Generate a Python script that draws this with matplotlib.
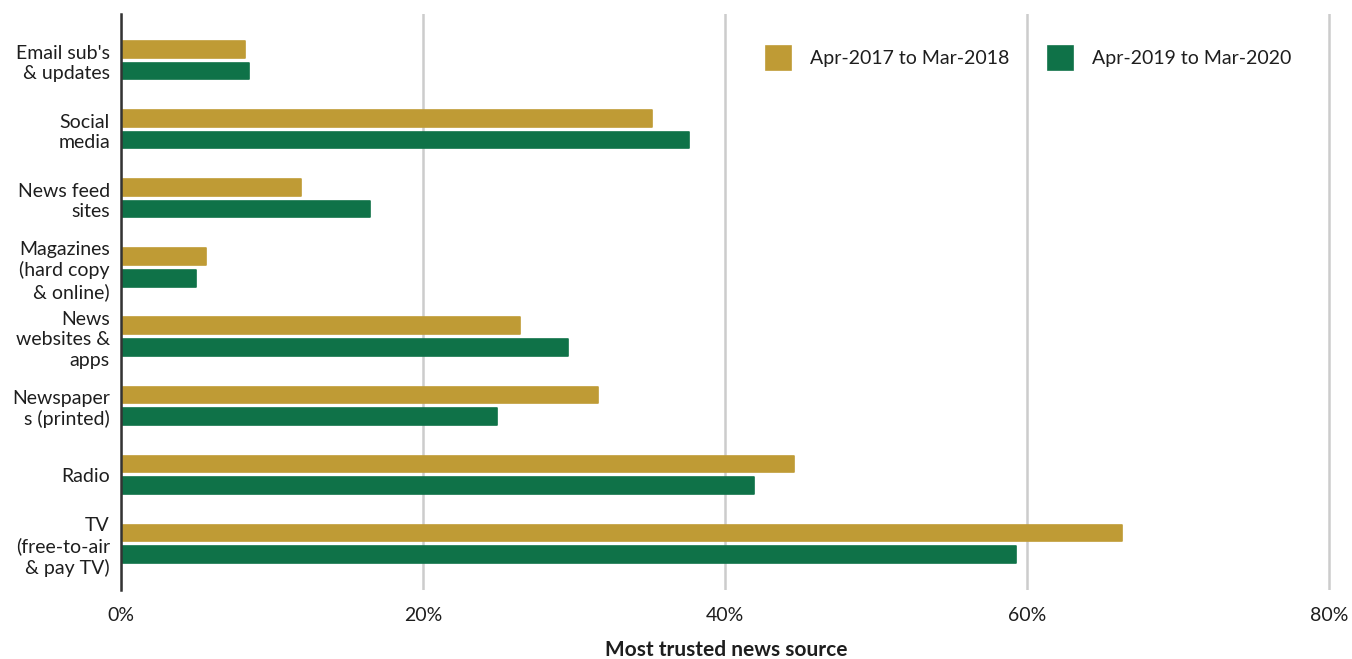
import matplotlib
matplotlib.use("Agg")
import matplotlib.pyplot as plt
import numpy as np

plt.rcParams['font.family'] = ['Lato', 'DejaVu Sans']

categories = [
    "Email sub's\n& updates",
    "Social\nmedia",
    "News feed\nsites",
    "Magazines\n(hard copy\n& online)",
    "News\nwebsites &\napps",
    "Newspaper\ns (printed)",
    "Radio",
    "TV\n(free-to-air\n& pay TV)",
]
series_names = ["Apr-2017 to Mar-2018", "Apr-2019 to Mar-2020"]
values_2017 = [8.2, 35.2, 11.9, 5.6, 26.4, 31.6, 44.6, 66.3]
values_2019 = [8.5, 37.6, 16.5, 5.0, 29.6, 24.9, 41.9, 59.3]
x_ticks = [0, 20, 40, 60, 80]
x_tick_labels = ["0%", "20%", "40%", "60%", "80%"]

gold = "#BF9B35"
green = "#0F7248"
text_color = "#1E1E1E"

fig = plt.figure(figsize=(13.52, 6.59), dpi=100)
ax = fig.add_axes([0.0895, 0.1047, 0.8955, 0.8741])

y = np.arange(len(categories))
h = 0.24
off = 0.156
kw = dict(height=h, linewidth=1.2, joinstyle="round", zorder=3)
ax.barh(y - off, values_2017, color=gold, edgecolor=gold, label=series_names[0], **kw)
ax.barh(y + off, values_2019, color=green, edgecolor=green, label=series_names[1], **kw)

ax.set_ylim(len(categories) - 1 + 0.67, -0.67)
ax.set_xlim(0, 80.2)
ax.set_yticks(y)
ax.set_yticklabels(categories, fontsize=14, color=text_color, linespacing=1.25)
ax.set_xticks(x_ticks)
ax.set_xticklabels(x_tick_labels, fontsize=14, color=text_color)
ax.tick_params(axis="both", length=0)
ax.tick_params(axis="y", pad=8)
ax.tick_params(axis="x", pad=12)

ax.grid(axis="x", color="#CCCCCC", linewidth=1.8, zorder=0)
ax.set_axisbelow(True)
for s in ["top", "right", "bottom"]:
    ax.spines[s].set_visible(False)
ax.spines["left"].set_color("#333333")
ax.spines["left"].set_linewidth(1.8)
ax.spines["left"].set_zorder(4)

ax.set_xlabel("Most trusted news source", fontsize=15, fontweight="bold",
              color=text_color, labelpad=12)

leg = ax.legend(ncol=2, loc="upper right", bbox_to_anchor=(0.981, 0.975),
                frameon=False, fontsize=14, handlelength=1.3, handleheight=1.5,
                columnspacing=2.0, handletextpad=0.95, labelcolor=text_color)

fig.savefig("out.png", dpi=100, facecolor="white")
